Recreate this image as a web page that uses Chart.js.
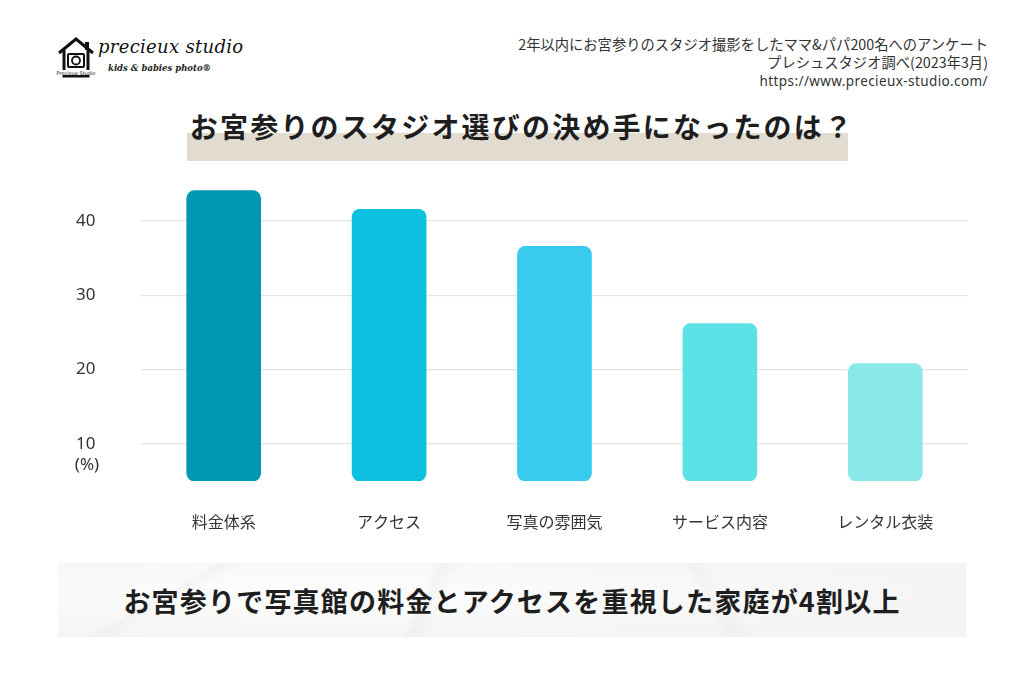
<!DOCTYPE html>
<html lang="ja">
<head>
<meta charset="utf-8">
<script src="https://cdn.jsdelivr.net/npm/chart.js@4/dist/chart.umd.min.js"></script>
<style>
  html, body { margin: 0; padding: 0; background: #fff; }
  body { width: 1024px; height: 683px; position: relative; overflow: hidden;
         font-family: "Noto Sans CJK JP", "Noto Sans", sans-serif; color: #222; }
  .logo { position: absolute; left: 56px; top: 36px; }
  .logo-name { position: absolute; left: 98px; top: 36px; font-family: "DejaVu Serif", serif;
               font-style: italic; font-size: 18px; color: #111; letter-spacing: 0.3px; }
  .logo-sub { position: absolute; left: 108px; top: 63px; font-family: "DejaVu Serif", serif;
              font-style: italic; font-weight: bold; font-size: 8.5px; color: #222; }
  .source { position: absolute; right: 36px; top: 35px; text-align: right; font-size: 14.3px;
            line-height: 18px; color: #333; }
  .source .url { font-family: "Noto Sans", sans-serif; font-size: 13.5px; letter-spacing: 0.4px; }
  .title-bar { position: absolute; left: 187px; top: 133px; width: 661px; height: 28px; background: #e1dccf; }
  .title { position: absolute; left: 10px; width: 1024px; top: 106px; text-align: center;
           font-size: 28px; font-weight: bold; color: #1e1e1e; letter-spacing: 2.2px; }
  #wrap { position: absolute; left: 40px; top: 170px; width: 950px; height: 380px; }
  .banner { position: absolute; left: 58px; top: 563px; width: 908px; height: 74px;
            background:
              linear-gradient(115deg, transparent 40%, rgba(210,210,210,0.18) 41%, transparent 43%),
              linear-gradient(60deg, transparent 70%, rgba(210,210,210,0.15) 71%, transparent 73%),
              linear-gradient(150deg, transparent 15%, rgba(215,215,215,0.18) 16%, transparent 18%),
              radial-gradient(ellipse at 30% 40%, #fdfdfd, #f4f4f4 75%);
            text-align: center; line-height: 76px; font-size: 27px; font-weight: bold; color: #1e1e1e;
            letter-spacing: 1.2px; }
</style>
</head>
<body>
<svg class="logo" width="40" height="44" viewBox="0 0 40 44">
  <path d="M3 17 L20 3 L37 17" fill="none" stroke="#111" stroke-width="3"/>
  <path d="M8 14 L8 40 L32 40 L32 14" fill="none" stroke="#111" stroke-width="3"/>
  <rect x="29" y="6" width="4" height="8" fill="#111"/>
  <rect x="12" y="18" width="16" height="13" rx="1" fill="none" stroke="#111" stroke-width="2"/>
  <circle cx="20" cy="24.5" r="4" fill="none" stroke="#111" stroke-width="1.8"/>
  <rect x="4" y="34" width="32" height="5" fill="#fff"/>
  <text x="20" y="38.5" font-size="5" text-anchor="middle" font-family="DejaVu Sans" fill="#111">Precieux Studio</text>
</svg>
<div class="logo-name">precieux studio</div>
<div class="logo-sub">kids &amp; babies photo®</div>

<div class="source">
  2年以内にお宮参りのスタジオ撮影をしたママ&amp;パパ200名へのアンケート<br>
  プレシュスタジオ調べ(2023年3月)<br>
  <span class="url">https://www.precieux-studio.com/</span>
</div>

<div class="title-bar"></div>
<div class="title">お宮参りのスタジオ選びの決め手になったのは？</div>

<div id="wrap"><canvas id="chart"></canvas></div>

<div class="banner">お宮参りで写真館の料金とアクセスを重視した家庭が4割以上</div>

<script>
// categories / values
const categories = ['料金体系', 'アクセス', '写真の雰囲気', 'サービス内容', 'レンタル衣装'];
const percents = [44.1, 41.6, 36.6, 26.2, 20.8];
const barColors = ['#0097b2', '#0cc0df', '#38caef', '#5ce1e6', '#89e9e8'];
const yTicks = [10, 20, 30, 40];
const yMin = 5;
const yMax = 45;

// "(%)" under the 10 tick
const unitLabel = {
  id: 'unitLabel',
  afterDraw(chart) {
    const { ctx, scales: { y } } = chart;
    const yPix = y.getPixelForValue(yTicks[0]) + 21;
    ctx.save();
    ctx.font = '17px "Noto Sans", sans-serif';
    ctx.fillStyle = '#333';
    ctx.textAlign = 'center';
    ctx.textBaseline = 'middle';
    ctx.fillText('(%)', 47, yPix);
    ctx.restore();
  }
};

new Chart(document.getElementById('chart').getContext('2d'), {
  type: 'bar',
  data: {
    labels: categories,
    datasets: [{
      data: percents,
      base: yMin,
      backgroundColor: barColors,
      borderRadius: 8,
      borderSkipped: false,
      barThickness: 74
    }]
  },
  options: {
    responsive: true,
    maintainAspectRatio: false,
    animation: false,
    layout: { padding: { top: 14, right: 22, bottom: 0, left: 36 } },
    scales: {
      x: {
        grid: { display: false },
        border: { display: false },
        ticks: { color: '#333', padding: 23, font: { family: '"Noto Sans CJK JP"', size: 16 } },
        afterFit: s => { s.height = 69; }
      },
      y: {
        min: yMin,
        max: yMax,
        bounds: 'data',
        afterBuildTicks: axis => { axis.ticks = yTicks.map(v => ({ value: v })); },
        grid: { color: '#e4e4e4', lineWidth: 1.3, drawTicks: false },
        border: { display: false },
        ticks: { color: '#333', crossAlign: 'far', padding: 3, font: { family: '"Noto Sans", sans-serif', size: 17 } },
        afterFit: s => { s.width = 65; }
      }
    },
    plugins: {
      legend: { display: false },
      tooltip: { enabled: false }
    }
  },
  plugins: [unitLabel]
});
</script>
</body>
</html>
